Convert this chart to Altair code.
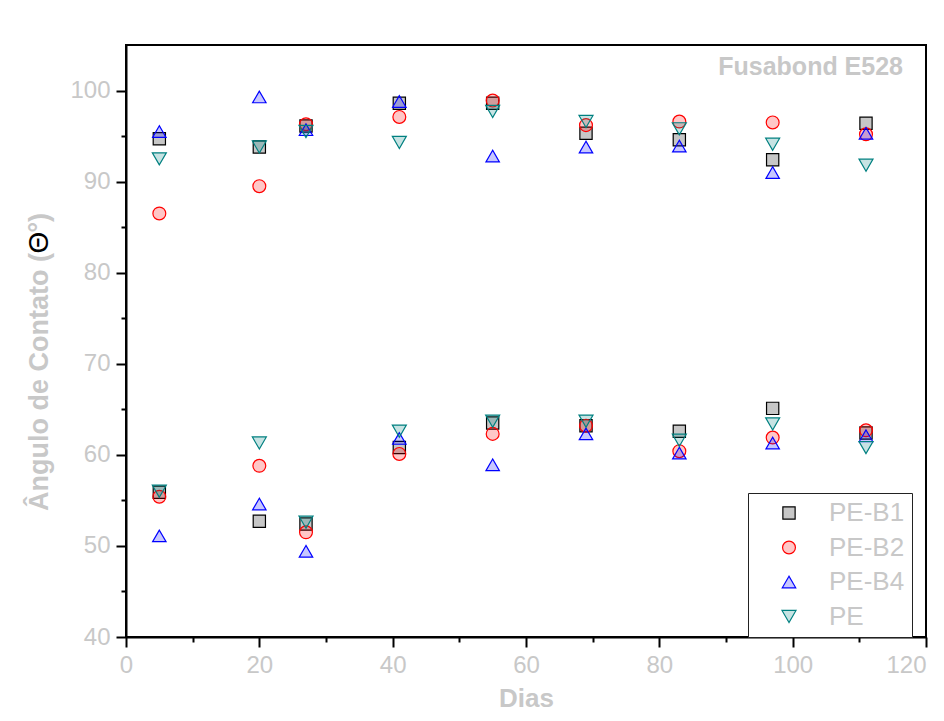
import altair as alt
import pandas as pd

days = [5, 20, 27, 41, 55, 69, 83, 97, 111]
series = ["PE-B1", "PE-B2", "PE-B4", "PE"]

# upper group of measurements
pe_b1_high = [94.7, 93.8, 96.1, 98.6, 98.6, 95.3, 94.6, 92.4, 96.4]
pe_b2_high = [86.5, 89.5, 96.3, 97.1, 98.9, 96.2, 96.6, 96.5, 95.2]
pe_b4_high = [95.5, 99.3, 95.7, 98.8, 92.8, 93.8, 93.9, 91.0, 95.3]
pe_high = [92.5, 93.8, 95.5, 94.3, 97.7, 96.6, 95.8, 94.1, 91.8]

# lower group of measurements
pe_b1_low = [55.9, 52.7, 52.4, 60.8, 63.5, 63.2, 62.6, 65.1, 62.4]
pe_b2_low = [55.4, 58.8, 51.5, 60.1, 62.3, 63.2, 60.4, 61.9, 62.7]
pe_b4_low = [51.1, 54.6, 49.4, 61.8, 58.9, 62.3, 60.2, 61.3, 62.1]
pe_low = [56.0, 61.3, 52.6, 62.6, 63.7, 63.7, 61.6, 63.4, 60.8]

x_ticks = [0, 10, 20, 30, 40, 50, 60, 70, 80, 90, 100, 110, 120]
y_ticks = [40, 45, 50, 55, 60, 65, 70, 75, 80, 85, 90, 95, 100]

annotation = ["Fusabond E528"]
y_title_parts = ["Ângulo de Contato (", "Θ", "°)"]
x_title = "Dias"

rows = []
groups = [
    ("PE-B1", pe_b1_high, pe_b1_low),
    ("PE-B2", pe_b2_high, pe_b2_low),
    ("PE-B4", pe_b4_high, pe_b4_low),
    ("PE", pe_high, pe_low),
]
for name, hi, lo in groups:
    for d, v in zip(days, hi):
        rows.append({"Dias": d, "Angulo": v, "Serie": name})
    for d, v in zip(days, lo):
        rows.append({"Dias": d, "Angulo": v, "Serie": name})
df = pd.DataFrame(rows)

FONT = "Liberation Sans"
GRAY = "#c8c8c8"

stroke_colors = ["#000000", "#ff0000", "#0000ff", "#008080"]
fill_colors = ["rgba(0,0,0,0.22)", "rgba(255,0,0,0.22)",
               "rgba(0,0,255,0.22)", "rgba(0,128,128,0.22)"]
shapes = ["square", "circle", "triangle-up", "triangle-down"]
sizes = [150, 196, 256, 256]

legend = alt.Legend(
    orient="none", legendX=622, legendY=448, title=None,
    fillColor="white", strokeColor="#222222", padding=7,
    labelFont=FONT, labelFontSize=26, labelColor=GRAY,
    symbolOffset=21, labelOffset=27, rowPadding=8.5,
    symbolStrokeWidth=1.2,
)

points = alt.Chart(df).mark_point(filled=True, opacity=1, strokeWidth=1.2).encode(
    x=alt.X("Dias:Q", scale=alt.Scale(domain=[0, 120], nice=False, zero=False),
            axis=alt.Axis(
                values=x_ticks,
                labelExpr="datum.value % 20 === 0 ? datum.label : ''",
                labelAlign={"condition": {"test": "datum.value === 120", "value": "right"}, "value": "center"},
                title=x_title, titleFont=FONT, titleFontSize=26,
                titleFontWeight="bold", titleColor=GRAY,
                titleY=69, titleBaseline="alphabetic",
                labelFont=FONT, labelFontSize=24, labelColor=GRAY,
                labelPadding=6,
                domainColor="black", domainWidth=2,
                tickColor="black", tickWidth=2,
                tickSize={"condition": {"test": "datum.value % 20 === 0", "value": 10}, "value": 5},
                grid=False, labelFlush=False,
            )),
    y=alt.Y("Angulo:Q", scale=alt.Scale(domain=[40, 105], nice=False, zero=False),
            axis=alt.Axis(
                values=y_ticks,
                labelExpr="datum.value % 10 === 0 ? datum.label : ''",
                title=None,
                labelFont=FONT, labelFontSize=24, labelColor=GRAY,
                labelPadding=6,
                domainColor="black", domainWidth=2,
                tickColor="black", tickWidth=2,
                tickSize={"condition": {"test": "datum.value % 10 === 0", "value": 10}, "value": 5},
                grid=False, labelFlush=False,
            )),
    shape=alt.Shape("Serie:N", scale=alt.Scale(domain=series, range=shapes), legend=legend),
    fill=alt.Fill("Serie:N", scale=alt.Scale(domain=series, range=fill_colors), legend=legend),
    stroke=alt.Stroke("Serie:N", scale=alt.Scale(domain=series, range=stroke_colors), legend=legend),
    size=alt.Size("Serie:N", scale=alt.Scale(domain=series, range=sizes), legend=legend),
    order=alt.Order("order:Q"),
).transform_calculate(
    order="indexof(['PE-B1','PE-B2','PE-B4','PE'], datum.Serie)"
)

annot = alt.Chart(pd.DataFrame({"t": annotation})).mark_text(
    font=FONT, fontSize=25, fontWeight="bold", color=GRAY,
    align="right", baseline="middle"
).encode(x=alt.value(777), y=alt.value(22), text="t:N")

t1 = alt.Chart(pd.DataFrame({"t": [y_title_parts[0]]})).mark_text(
    font=FONT, fontSize=27, fontWeight="bold", color=GRAY,
    align="left", baseline="alphabetic", angle=270
).encode(x=alt.value(-78), y=alt.value(466), text="t:N")

t2 = alt.Chart(pd.DataFrame({"t": [y_title_parts[1]]})).mark_text(
    font=FONT, fontSize=28, fontWeight="normal", color="black",
    align="center", baseline="alphabetic", angle=270
).encode(x=alt.value(-78), y=alt.value(197.5), text="t:N")

t3 = alt.Chart(pd.DataFrame({"t": [y_title_parts[2]]})).mark_text(
    font=FONT, fontSize=27, fontWeight="bold", color=GRAY,
    align="right", baseline="alphabetic", angle=270
).encode(x=alt.value(-78), y=alt.value(168), text="t:N")

chart = alt.layer(points, annot, t1, t2, t3).properties(
    width=800, height=592,
    padding={"left": 118, "top": 37, "right": 10, "bottom": 76},
    autosize="none",
    background="white",
).configure_view(
    stroke="black", strokeWidth=2
)

chart.save("out.html", embed_options={"renderer": "svg", "actions": False})
